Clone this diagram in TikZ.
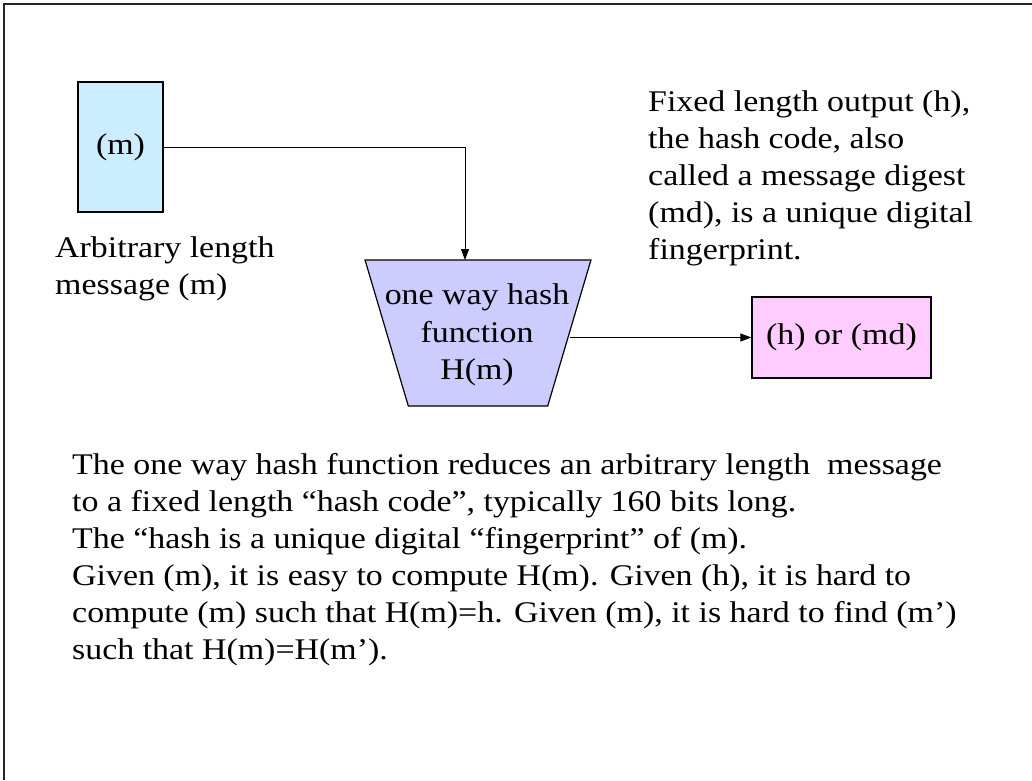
\documentclass[tikz,border=0pt]{standalone}
\usepackage{fontspec}
\setmainfont{Liberation Serif}[FakeStretch=1.13]
\usetikzlibrary{shapes.geometric,arrows.meta}
\definecolor{boxblue}{HTML}{CCECFF}
\definecolor{trapblue}{HTML}{CCCCFF}
\definecolor{boxpink}{HTML}{FFCCFF}
\tikzset{
  txt/.style={font=\fontsize{30}{37}\selectfont, inner sep=0pt, align=left, anchor=north west},
  shp/.style={draw=black, line width=1.2pt, font=\fontsize{30}{37.5}\selectfont, inner sep=0pt},
  conn/.style={line width=0.8pt, -{Triangle[length=11pt,width=8pt]}},
  frameline/.style={line width=1.6pt, draw=black!85}
}
\begin{document}
\begin{tikzpicture}[x=1pt,y=-1pt]
\useasboundingbox (0,0) rectangle (1032,780);
\fill[white] (0,0) rectangle (1032,780);
% frame
\coordinate (fTR) at (1032,4);
\coordinate (fTL) at (4,4);
\coordinate (fBL) at (4,780);
\draw[frameline] (fTR) -- (fTL) -- (fBL);

% message box
\node[shp, fill=boxblue, minimum width=85pt, minimum height=130pt] (m) at (120.5,147) {(m)};
% hash function trapezium
\node[shp, fill=trapblue, trapezium, shape border rotate=180, trapezium stretches=true,
      trapezium left angle=68.85, trapezium right angle=68.85,
      minimum width=226pt, minimum height=146pt] (hash) at (478,333) {\phantom{X}};
\node[font=\fontsize{30}{37.5}\selectfont, inner sep=0pt, align=center] (hashtxt) at (477,335)
      {one way hash\\function\\H(m)};
% output box
\node[shp, fill=boxpink, minimum width=179pt, minimum height=81pt] (out) at (841.5,337.5) {(h) or (md)};

% connectors
\coordinate (hin) at (465,260);
\draw[conn] (m.east) -| (hin);
\draw[conn] (hash.east |- out.west) -- (out.west);

% texts
\node[txt] (arb) at (55,236) {Arbitrary length\\message (m)};
\node[txt] (fixed) at (648,90) {Fixed length output (h),\\the hash code, also\\called a message digest\\(md), is a unique digital\\fingerprint.};
\node[txt] (desc) at (72,453) {The one way hash function reduces an arbitrary length\ \ message\\to a fixed length “hash code”, typically 160 bits long.\\The “hash is a unique digital “fingerprint” of (m).\\Given (m), it is easy to compute H(m). Given (h), it is hard to\\compute (m) such that H(m)=h. Given (m), it is hard to find (m’)\\such that H(m)=H(m’).};
\end{tikzpicture}
\end{document}
